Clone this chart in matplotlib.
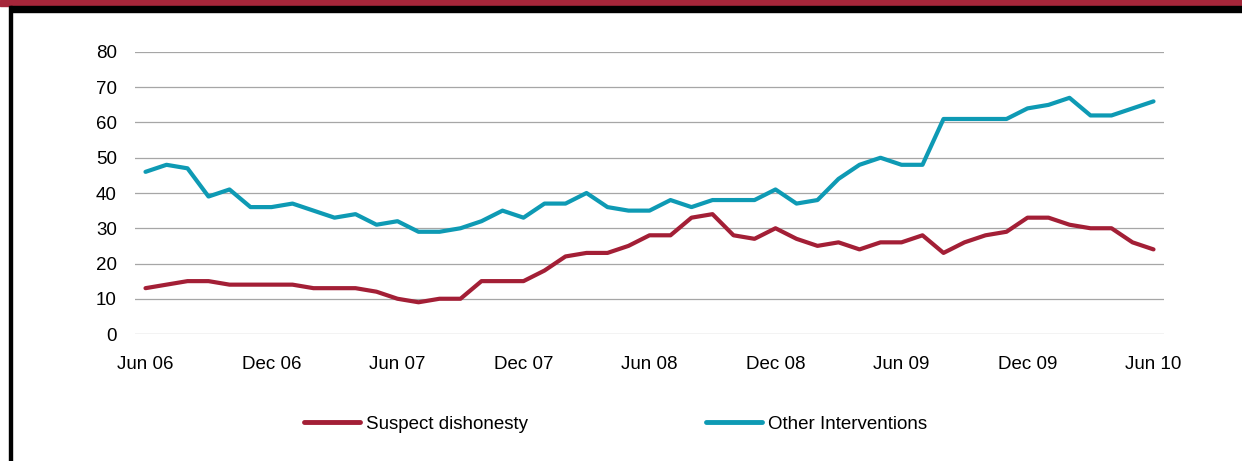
import numpy as np
import matplotlib
matplotlib.use("Agg")
import matplotlib.pyplot as plt
from matplotlib.lines import Line2D
from matplotlib.patches import Rectangle

plt.rcParams['font.family'] = ['Liberation Sans', 'DejaVu Sans']

# Monthly values, Jun 06 .. Jun 10
suspect = [13, 14, 15, 15, 14, 14, 14, 14, 13, 13, 13, 12, 10, 9, 10, 10, 15, 15, 15,
           18, 22, 23, 23, 25, 28, 28, 33, 34, 28, 27, 30, 27, 25, 26, 24, 26,
           26, 28, 23, 26, 28, 29, 33, 33, 31, 30, 30, 26, 24]
other = [46, 48, 47, 39, 41, 36, 36, 37, 35, 33, 34, 31, 32, 29, 29, 30, 32, 35, 33,
         37, 37, 40, 36, 35, 35, 38, 36, 38, 38, 38, 41, 37, 38, 44, 48, 50,
         48, 48, 61, 61, 61, 61, 64, 65, 67, 62, 62, 64, 66]
tick_labels = ["Jun 06", "Dec 06", "Jun 07", "Dec 07", "Jun 08",
               "Dec 08", "Jun 09", "Dec 09", "Jun 10"]
series_names = ["Suspect dishonesty", "Other Interventions"]

red = "#A31F36"
teal = "#0E9AB4"
fs = 13.5

fig = plt.figure(figsize=(12.42, 4.61), dpi=100)
ax = fig.add_axes([135 / 1242, 1 - 334 / 461, (1164 - 135) / 1242, (334 - 52) / 461])

months = np.arange(len(suspect))
ax.plot(months, suspect, color=red, lw=3, solid_capstyle="round", solid_joinstyle="round")
ax.plot(months, other, color=teal, lw=3, solid_capstyle="round", solid_joinstyle="round")

ax.set_xlim(-0.5, len(suspect) - 0.5)
ax.set_ylim(0, 80)
ax.set_yticks(np.arange(0, 81, 10))
ax.set_xticks(np.arange(0, len(suspect), 6))
ax.set_xticklabels(tick_labels)
ax.grid(axis="y", color="#A6A6A6", lw=0.9)
ax.set_axisbelow(True)
for s in ax.spines.values():
    s.set_visible(False)
ax.tick_params(axis="both", length=0, labelsize=fs, colors="black")
ax.tick_params(axis="y", pad=13)
ax.tick_params(axis="x", pad=16)

# legend, one entry each so they sit where the original has them
colors = [red, teal]
starts = [304, 706]
for name, c, x0 in zip(series_names, colors, starts):
    h = Line2D([], [], color=c, lw=3.5, solid_capstyle="round")
    fig.legend([h], [name], loc="center left", bbox_to_anchor=(x0 / 1242, 1 - 424 / 461),
               frameon=False, fontsize=fs, handlelength=3.0, handletextpad=0.3,
               borderpad=0, borderaxespad=0)

# frame decoration
fig.patches.append(Rectangle((0, 1 - 6 / 461), 1, 6 / 461, transform=fig.transFigure,
                             color="#A5263A", zorder=5))
fig.patches.append(Rectangle((10 / 1242, 1 - 12 / 461), 1, 6 / 461, transform=fig.transFigure,
                             color="black", zorder=5))
fig.patches.append(Rectangle((9 / 1242, 0), 3 / 1242, 1 - 6 / 461, transform=fig.transFigure,
                             color="black", zorder=5))

fig.savefig("out.png", dpi=100)
